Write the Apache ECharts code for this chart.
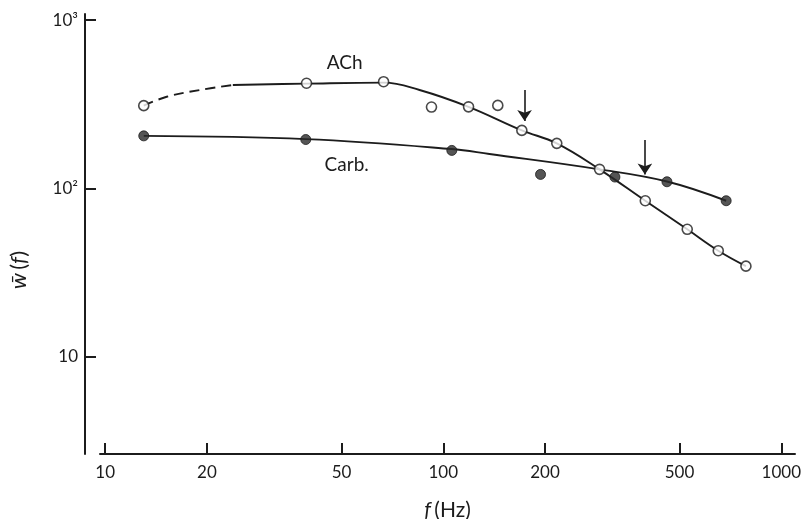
<!DOCTYPE html>
<html>
<head>
<meta charset="utf-8">
<script src="https://cdn.jsdelivr.net/npm/echarts@6/dist/echarts.min.js"></script>
<style>
  html, body { margin: 0; padding: 0; background: #fff; }
  #chart { width: 804px; height: 519px; }
</style>
</head>
<body>
<div id="chart"></div>
<script>
// Frequency ticks (Hz) and power-of-ten ticks for w(f)
const xTicks = [10, 20, 50, 100, 200, 500, 1000];
const yTicks = [10, 100, 1000];
const yTickText = { 10: '10', 100: '10\u00B2', 1000: '10\u00B3' };

// ACh: measured points (open circles)
const achFreq = [13.0, 39.4, 66.6, 92.3, 118.8, 145, 170.8, 216.7, 290, 396, 527, 651, 786];
const achW    = [310, 421, 430, 304, 305, 311, 221, 185, 129.7, 84.4, 57.1, 42.6, 34.5];

// Carb.: measured points (filled circles)
const carbFreq = [13.0, 39.2, 106, 194, 322, 459, 687];
const carbW    = [205, 195, 168, 121, 116.7, 109.4, 84.4];

// Fitted curve for ACh: dashed (extrapolated) part and solid part
const achFitDashFreq = [13.0, 15.2, 19.05, 23.85];
const achFitDashW    = [310, 350, 384, 411];
const achFitFreq = [23.85, 39.4, 66.6, 85.1, 118.8, 170.8, 216.7, 290, 396, 527, 651, 786];
const achFitW    = [411, 419, 425, 384, 305, 221, 185, 129.7, 84.4, 57.1, 42.6, 34.5];

// Fitted curve for Carb.
const carbFitFreq = [13.0, 39.2, 105.8, 137, 289.6, 459, 687];
const carbFitW    = [205, 196, 171.2, 159.9, 129.7, 109.8, 84.4];

// Corner-frequency arrows: frequency, top and tip of each arrow
const arrowFreq = [174, 395];
const arrowTop  = [384, 194];
const arrowTip  = [251, 121];

// Curve names placed beside the curves
const curveNames = ['ACh', 'Carb.'];
const curveNameFreq = [51.1, 51.8];
const curveNameW    = [555, 137.5];

const ink = '#1c1c1c';
const font = 'Lato, "Open Sans", sans-serif';

const zip = (a, b) => a.map((v, i) => [v, b[i]]);

const chart = echarts.init(document.getElementById('chart'), null, { renderer: 'canvas' });

const option = {
  animation: false,
  backgroundColor: '#ffffff',
  grid: { left: 100, right: 9, top: 14, bottom: 65, outerBoundsMode: 'none', containLabel: false },
  xAxis: {
    type: 'log',
    logBase: 10,
    min: 9.65,
    max: 1098,
    axisLine: { show: true, lineStyle: { color: ink, width: 2 } },
    axisTick: { show: true, inside: true, length: 11, customValues: xTicks, lineStyle: { color: ink, width: 2 } },
    minorTick: { show: false },
    splitLine: { show: false },
    axisLabel: {
      customValues: xTicks,
      margin: 10,
      color: ink,
      fontFamily: font,
      fontSize: 17,
      formatter: v => String(Math.round(v))
    },
    name: '{i|f} {n|(Hz)}',
    nameLocation: 'middle',
    nameGap: 46,
    nameTextStyle: {
      rich: {
        i: { fontFamily: font, fontStyle: 'italic', fontSize: 21, color: ink },
        n: { fontFamily: font, fontSize: 21, color: ink }
      }
    }
  },
  yAxis: {
    type: 'log',
    logBase: 10,
    min: 2.64,
    max: 1086,
    offset: 15,
    axisLine: { show: true, lineStyle: { color: ink, width: 2 } },
    axisTick: { show: true, inside: true, length: 11, customValues: yTicks, lineStyle: { color: ink, width: 2 } },
    minorTick: { show: false },
    splitLine: { show: false },
    axisLabel: {
      customValues: yTicks,
      margin: 7,
      color: ink,
      fontFamily: font,
      fontSize: 17,
      formatter: v => yTickText[Math.round(v)] || ''
    }
  },
  graphic: [{
    type: 'text',
    x: 19,
    y: 270,
    rotation: Math.PI / 2,
    style: {
      text: '{i|w\u0304} {n|(}{i|f}{n|)}',
      align: 'center',
      verticalAlign: 'middle',
      rich: {
        i: { fontFamily: font, fontStyle: 'italic', fontSize: 22, fill: ink },
        n: { fontFamily: font, fontSize: 22, fill: ink }
      }
    }
  }],
  series: [
    {
      name: 'ACh fit (extrapolated)',
      type: 'line',
      data: zip(achFitDashFreq, achFitDashW),
      smooth: 0.4,
      showSymbol: false,
      lineStyle: { color: ink, width: 1.9, type: [10, 6] },
      z: 2
    },
    {
      name: 'ACh fit',
      type: 'line',
      data: zip(achFitFreq, achFitW),
      smooth: 0.4,
      showSymbol: false,
      lineStyle: { color: ink, width: 1.9 },
      z: 2
    },
    {
      name: 'Carb. fit',
      type: 'line',
      data: zip(carbFitFreq, carbFitW),
      smooth: 0.4,
      showSymbol: false,
      lineStyle: { color: ink, width: 1.9 },
      z: 2
    },
    {
      name: 'ACh',
      type: 'scatter',
      data: zip(achFreq, achW),
      symbol: 'circle',
      symbolSize: 10,
      itemStyle: { color: '#ffffff', borderColor: ink, borderWidth: 1.6 },
      z: 4
    },
    {
      name: 'Carb.',
      type: 'scatter',
      data: zip(carbFreq, carbW),
      symbol: 'circle',
      symbolSize: 10,
      itemStyle: { color: '#2a2a2a', borderColor: ink, borderWidth: 1 },
      z: 4
    },
    {
      name: 'arrows',
      type: 'lines',
      coordinateSystem: 'cartesian2d',
      data: arrowFreq.map((f, i) => ({ coords: [[f, arrowTop[i]], [f, arrowTip[i]]] })),
      symbol: ['none', 'arrow'],
      symbolSize: [5, 11],
      lineStyle: { color: ink, width: 1.6, opacity: 1 },
      z: 3
    },
    {
      name: 'curve names',
      type: 'scatter',
      data: curveNames.map((t, i) => [curveNameFreq[i], curveNameW[i], t]),
      symbolSize: 1,
      itemStyle: { color: 'rgba(0,0,0,0)' },
      label: {
        show: true,
        position: 'inside',
        formatter: p => p.value[2],
        color: ink,
        opacity: 1,
        textBorderWidth: 0,
        fontFamily: font,
        fontSize: 19
      },
      emphasis: { disabled: true },
      z: 5
    }
  ]
};

chart.setOption(option);
</script>
</body>
</html>
